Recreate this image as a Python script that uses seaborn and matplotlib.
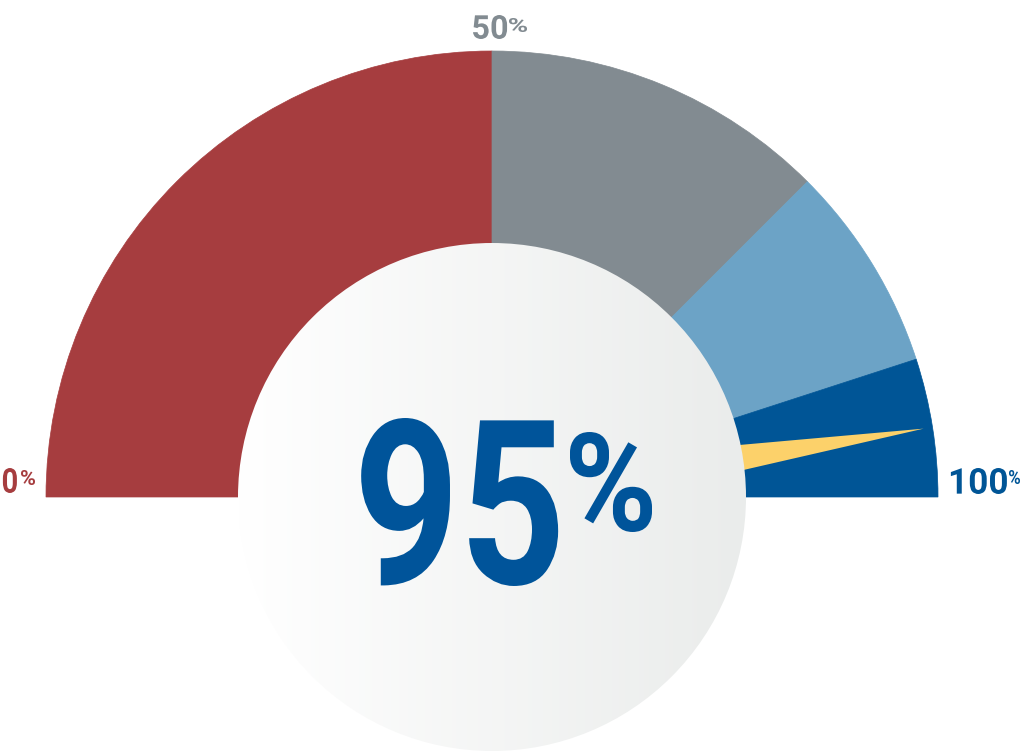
"""Half-donut gauge chart (95%)."""

import numpy as np
import matplotlib
matplotlib.use("Agg")
import matplotlib.pyplot as plt
from matplotlib.patches import Wedge, Circle, Polygon
from matplotlib.patheffects import AbstractPathEffect
from matplotlib.transforms import Affine2D
from matplotlib.textpath import TextPath, text_to_path
from matplotlib.font_manager import FontProperties
import seaborn as sns

sns.set_theme(style="white")
plt.rcParams["font.family"] = ["Roboto", "DejaVu Sans"]

# data
band_edges = [0, 50, 75, 90, 100]
band_colors = ["#a63d3f", "#828b91", "#6ca3c6", "#005596"]
gauge_value = 95
value_label = "95"
tick_values = [0, 50, 100]
tick_labels = ["0", "50", "100"]
tick_colors = ["#a63d3f", "#828b91", "#005596"]

W, H = 1023, 751
DPI = 100
cx, cy = 492, 254
r_outer = 446
r_inner = 254


def pct_to_deg(p):
    return 180 - p * 1.8


class HSqueeze(AbstractPathEffect):
    """Narrow the glyphs horizontally around the text anchor (condensed look)."""

    def __init__(self, sx):
        super().__init__()
        self.sx = sx
        self.text = None

    def draw_path(self, renderer, gc, tpath, affine, rgbFace=None):
        xa = self.text.get_transform().transform(self.text.get_position())[0]
        sq = Affine2D().translate(-xa, 0).scale(self.sx, 1).translate(xa, 0)
        renderer.draw_path(gc, tpath, affine + sq, rgbFace)


def fit_text(ax, s, x0, x1, bottom, height, color, ha="left"):
    """Real text sized and narrowed so its ink fills the box x0..x1, bottom..bottom+height."""
    ref_px = 100 * DPI / 72
    prop = FontProperties(family="Roboto", weight="bold", size=ref_px)
    ext = TextPath((0, 0), s, size=ref_px, prop=prop).get_extents()
    adv = text_to_path.get_text_width_height_descent(s, prop, ismath=False)[0]
    k = height / ext.height
    sx = (x1 - x0) / (ext.width * k)
    if ha == "right":
        x = x1 + (adv - ext.x1) * k * sx
    else:
        x = x0 - ext.x0 * k * sx
    t = ax.text(x, bottom - ext.y0 * k, s, ha=ha, va="baseline",
                fontsize=100 * k, fontweight="bold", color=color, zorder=5)
    pe = HSqueeze(sx)
    pe.text = t
    t.set_path_effects([pe])
    return t


fig = plt.figure(figsize=(W / DPI, H / DPI), dpi=DPI)
ax = fig.add_axes([0, 0, 1, 1])
ax.set_xlim(0, W)
ax.set_ylim(0, H)
ax.set_aspect("equal")
ax.axis("off")

palette = sns.color_palette(band_colors)
for lo, hi, col in zip(band_edges[:-1], band_edges[1:], palette):
    ax.add_patch(Wedge((cx, cy), r_outer, pct_to_deg(hi), pct_to_deg(lo),
                       facecolor=col, edgecolor=col, linewidth=0.5))

# needle
th = np.radians(pct_to_deg(gauge_value))
half_w = 30
tip = (cx + 437 * np.cos(th), cy + 437 * np.sin(th))
b1 = (cx - half_w * np.sin(th), cy + half_w * np.cos(th))
b2 = (cx + half_w * np.sin(th), cy - half_w * np.cos(th))
ax.add_patch(Polygon([b1, tip, b2], closed=True, facecolor="#fcd16a", edgecolor="none"))

# centre disc with horizontal gradient
disc = Circle((cx, cy), r_inner, facecolor="none", edgecolor="none")
ax.add_patch(disc)
grad = np.linspace(0, 1, 256).reshape(1, -1)
cmap = matplotlib.colors.LinearSegmentedColormap.from_list("g", ["#ffffff", "#eaeceb"])
img = ax.imshow(grad, cmap=cmap, extent=[cx - r_inner, cx + r_inner, cy - r_inner, cy + r_inner],
                aspect="auto", zorder=3)
img.set_clip_path(disc)

# big value
fit_text(ax, value_label, 361, 558, 165, 168, "#00549a", ha="right")
fit_text(ax, "%", 570, 652, 219, 100, "#00549a")

# scale labels: ink boxes of digits / percent sign
label_boxes = {
    0: ((3, 17, 258, 25), (21, 35, 266, 15)),
    50: ((473, 507, 712, 24), (509, 527, 719, 14)),
    100: ((951, 1007, 257, 26), (1009, 1020, 267, 14)),
}
for v, lab, col in zip(tick_values, tick_labels, tick_colors):
    (a0, a1, ab, ah), (p0, p1, pb, ph) = label_boxes[v]
    fit_text(ax, lab, a0, a1, ab, ah, col, ha="right")
    fit_text(ax, "%", p0, p1, pb, ph, col)

fig.savefig("out.png", dpi=DPI)
